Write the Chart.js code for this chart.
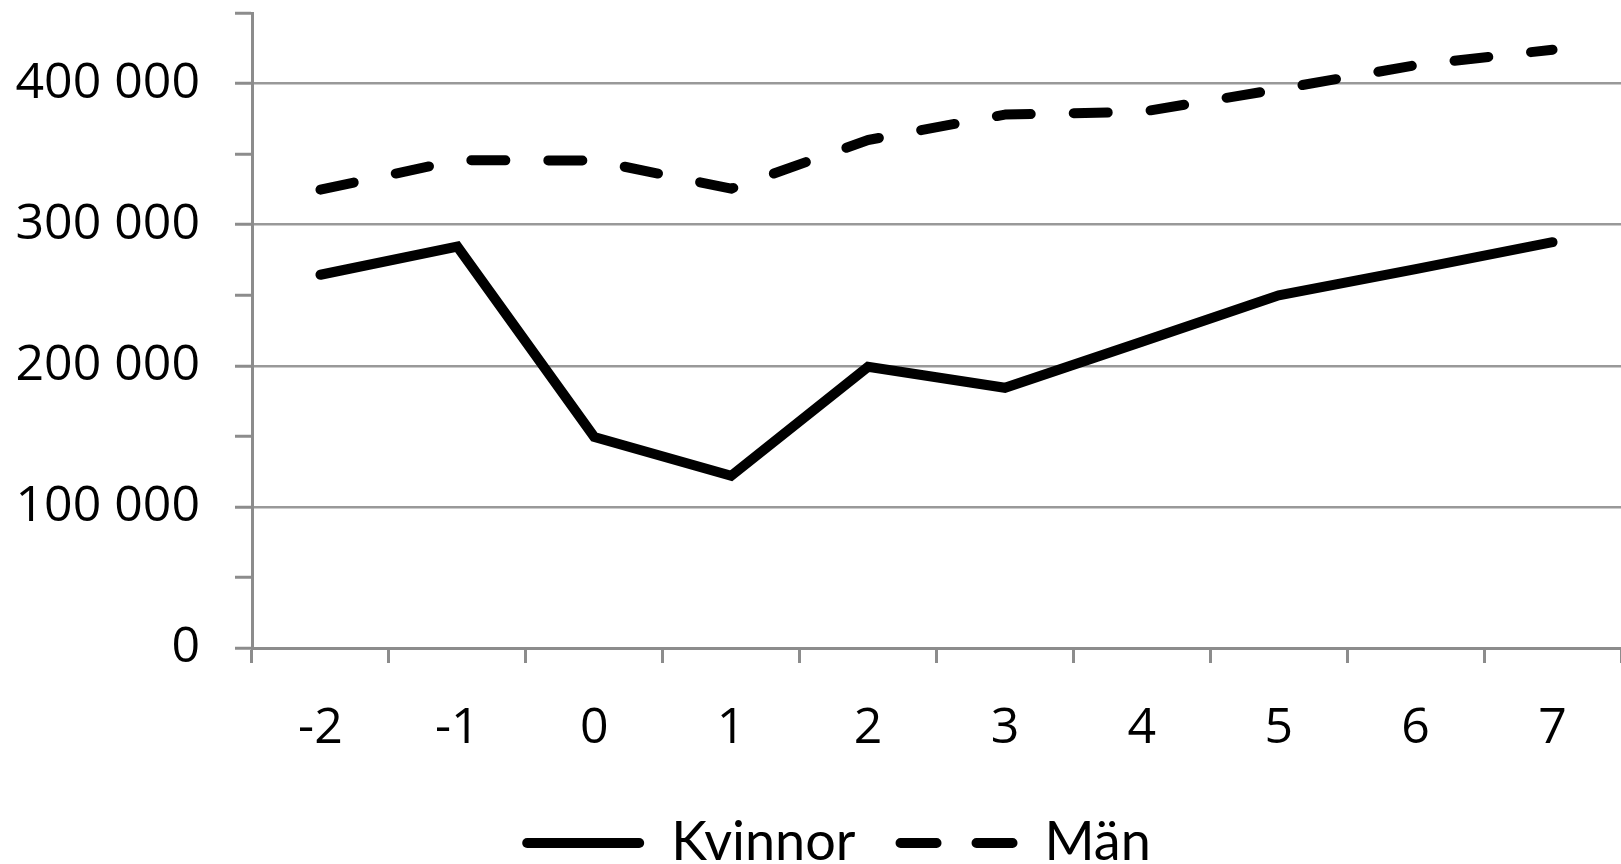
<!DOCTYPE html>
<html>
<head>
<meta charset="utf-8">
<script src="https://cdn.jsdelivr.net/npm/chart.js@4.4.1/dist/chart.umd.min.js"></script>
<style>
    html, body { margin: 0; padding: 0; background: #fff; overflow: hidden; }
    #wrap { width: 1621px; height: 880px; }
</style>
</head>
<body>
<div id="wrap"><canvas id="chart" width="1621" height="880"></canvas></div>
<script>
const years = ['-2', '-1', '0', '1', '2', '3', '4', '5', '6', '7'];
const kvinnor = [264500, 284500, 149500, 122000, 199300, 184400, 217000, 250000, 268500, 287600];
const man = [324800, 345600, 345500, 325500, 360000, 378000, 380000, 396000, 413000, 424000];
const yMax = 450000;
const yStep = 50000;

const axisGray = '#8c8c8c';
const gridGray = '#999999';
const tickFont = '"Open Sans", Lato, sans-serif';
const legendFont = 'Lato, "Open Sans", sans-serif';

function fmt(v) {
    return String(v).replace(/\B(?=(\d{3})+(?!\d))/g, ' ');
}

const lineDashes = [[], [34, 43]];
const legendDashes = [[], [36, 40]];
const legendLineWidth = 122;

// let the y labels reach the left edge (labels are clipped to the axis box)
const widenY = {
    id: 'widenY',
    afterLayout(chart) {
        chart.scales.y.left = 0;
    }
};

// legend samples drawn here so they get round caps and the dash
const legendLines = {
    id: 'legendLines',
    afterDraw(chart) {
        const lg = chart.legend;
        if (!lg || !lg.legendHitBoxes) return;
        const ctx = chart.ctx;
        ctx.save();
        ctx.strokeStyle = '#000';
        ctx.lineWidth = 10;
        ctx.lineCap = 'round';
        lg.legendHitBoxes.forEach((box, i) => {
            const y = box.top + box.height / 2;
            ctx.setLineDash(legendDashes[i] || []);
            ctx.beginPath();
            ctx.moveTo(box.left + 5, y);
            ctx.lineTo(box.left + legendLineWidth - 5, y);
            ctx.stroke();
        });
        ctx.restore();
    }
};

new Chart(document.getElementById('chart').getContext('2d'), {
    type: 'line',
    data: {
        labels: years,
        datasets: [{
            label: 'Kvinnor',
            data: kvinnor,
            borderColor: '#000',
            backgroundColor: '#000',
            borderWidth: 10,
            borderCapStyle: 'round',
            borderJoinStyle: 'miter',
            pointRadius: 0,
            tension: 0
        }, {
            label: 'Män',
            data: man,
            borderColor: '#000',
            backgroundColor: '#000',
            borderWidth: 10,
            borderDash: lineDashes[1],
            borderCapStyle: 'round',
            borderJoinStyle: 'round',
            pointRadius: 0,
            tension: 0
        }]
    },
    options: {
        responsive: false,
        animation: false,
        layout: { padding: { left: 52, top: 13, right: 0, bottom: 0 } },
        plugins: {
            tooltip: { enabled: false },
            legend: {
                position: 'bottom',
                labels: {
                    color: '#000',
                    font: { family: legendFont, size: 54 },
                    usePointStyle: true,
                    pointStyle: 'line',
                    pointStyleWidth: legendLineWidth,
                    padding: 40,
                    generateLabels: chart => {
                        const items = Chart.defaults.plugins.legend.labels.generateLabels(chart);
                        items.forEach(it => {
                            it.pointStyle = 'line';
                            it.strokeStyle = 'rgba(0,0,0,0)';
                            it.fillStyle = 'rgba(0,0,0,0)';
                        });
                        return items;
                    }
                }
            }
        },
        scales: {
            x: {
                offset: true,
                afterFit: a => { a.height = 128; a.paddingLeft = 0; a.paddingRight = 0; },
                ticks: {
                    color: '#000',
                    font: { family: tickFont, size: 50 },
                    padding: 36,
                    maxRotation: 0,
                    autoSkip: false
                },
                grid: {
                    offset: true,
                    drawOnChartArea: false,
                    color: axisGray,
                    tickColor: axisGray,
                    tickLength: 15,
                    lineWidth: 3,
                    tickWidth: 3
                },
                border: { color: axisGray, width: 3 }
            },
            y: {
                min: 0,
                max: yMax,
                afterFit: a => { a.width = 200; a.paddingTop = 0; a.paddingBottom = 0; },
                ticks: {
                    stepSize: yStep,
                    autoSkip: false,
                    color: '#000',
                    font: { family: tickFont, size: 50 },
                    padding: 35,
                    callback: v => (v % 100000 === 0 ? fmt(v) : '')
                },
                grid: {
                    color: ctx => (ctx.tick && ctx.tick.value % 100000 === 0 && ctx.tick.value > 0 ? gridGray : 'rgba(0,0,0,0)'),
                    lineWidth: 2.5,
                    tickColor: axisGray,
                    tickLength: 17,
                    tickWidth: 3
                },
                border: { color: axisGray, width: 3 }
            }
        }
    },
    plugins: [widenY, legendLines]
});
</script>
</body>
</html>
